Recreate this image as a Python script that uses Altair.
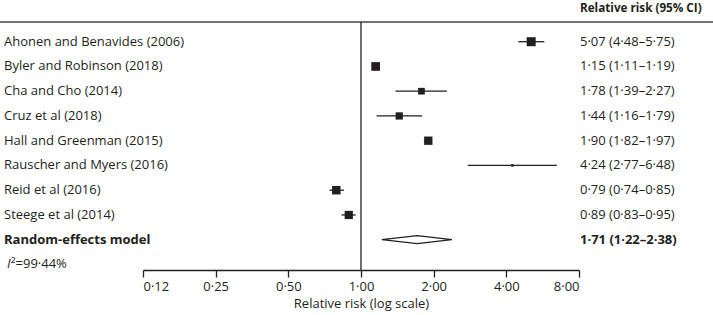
import altair as alt
import pandas as pd

# ---- data ----
studies = [
    "Ahonen and Benavides (2006)",
    "Byler and Robinson (2018)",
    "Cha and Cho (2014)",
    "Cruz et al (2018)",
    "Hall and Greenman (2015)",
    "Rauscher and Myers (2016)",
    "Reid et al (2016)",
    "Steege et al (2014)",
]
rr = [5.07, 1.15, 1.78, 1.44, 1.90, 4.24, 0.79, 0.89]
ci_low = [4.48, 1.11, 1.39, 1.16, 1.82, 2.77, 0.74, 0.83]
ci_high = [5.75, 1.19, 2.27, 1.79, 1.97, 6.48, 0.85, 0.95]
weights = [17.2, 16.1, 9.5, 11.2, 14.8, 1.4, 15.3, 14.4]

pooled_label = "Random-effects model"
pooled_rr = 1.71
pooled_low = 1.22
pooled_high = 2.38
i2_value = "99·44%"

tick_values = [0.125, 0.25, 0.5, 1, 2, 4, 8]
tick_labels = ["0·12", "0·25", "0·50", "1·00", "2·00", "4·00", "8·00"]
header_text = "Relative risk (95% CI)"
x_title = "Relative risk (log scale)"

# ---- layout / style ----
INK = "#231f20"
FONT = "Open Sans"
FS = 13
W, H = 436, 248
PAD = {"left": 143, "top": 22, "right": 134, "bottom": 45}
ROW_PX = 24.75
Y0 = -19.7 / ROW_PX
Y1 = Y0 + H / ROW_PX
DIAMOND_HALF = 4.0 / ROW_PX


def fmt(v):
    return f"{v:.2f}".replace(".", "·")


n = len(studies)
df = pd.DataFrame({
    "row": list(range(n)),
    "study": studies,
    "rr": rr,
    "lo": ci_low,
    "hi": ci_high,
    "weight": weights,
    "txt": [f"{fmt(a)} ({fmt(b)}–{fmt(c)})" for a, b, c in zip(rr, ci_low, ci_high)],
})
pooled_row = n
pooled_df = pd.DataFrame({
    "row": [pooled_row],
    "study": [pooled_label],
    "txt": [f"{fmt(pooled_rr)} ({fmt(pooled_low)}–{fmt(pooled_high)})"],
})
diamond_df = pd.DataFrame({
    "rr": [pooled_low, pooled_rr, pooled_high],
    "y": [pooled_row, pooled_row - DIAMOND_HALF, pooled_row],
    "y2": [pooled_row, pooled_row + DIAMOND_HALF, pooled_row],
})
i2_df = pd.DataFrame({"row": [pooled_row + 1]})
one = pd.DataFrame({"v": [1]})

label_expr = " : ".join(
    f"abs(datum.value - {v}) < 1e-6 ? '{l}'" for v, l in zip(tick_values, tick_labels)
) + " : ''"

x_scale = alt.Scale(type="log", base=2, domain=[tick_values[0], tick_values[-1]], nice=False)
x_axis = alt.Axis(values=tick_values, labelExpr=label_expr, title=x_title, grid=False)
y_scale = alt.Scale(domain=[Y0, Y1], reverse=True, nice=False, zero=False)


def X(field):
    return alt.X(field, type="quantitative", scale=x_scale, axis=x_axis)


def Y(field):
    return alt.Y(field, type="quantitative", scale=y_scale, axis=None)


text_style = dict(align="left", baseline="middle", font=FONT, color=INK)

top_line = alt.Chart(one).mark_rule(color="#444444", strokeWidth=1.5).encode(
    x=alt.value(-PAD["left"]), x2=alt.value(W + PAD["right"]), y=alt.value(0)
)
ref_line = alt.Chart(one).mark_rule(color=INK, strokeWidth=1.3).encode(
    x=X("v"), y=alt.value(0), y2=alt.value(H)
)
ci = alt.Chart(df).mark_rule(color=INK, strokeWidth=1.3).encode(
    x=X("lo"), x2="hi", y=Y("row")
)
squares = alt.Chart(df).mark_square(color=INK, opacity=1).encode(
    x=X("rr"), y=Y("row"),
    size=alt.Size("weight:Q", scale=alt.Scale(domain=[0, 17.2], range=[0, 81]), legend=None),
)
diamond = alt.Chart(diamond_df).mark_area(fill="white", stroke=INK, strokeWidth=1.3, opacity=1).encode(
    x=X("rr"), y=Y("y"), y2="y2"
)
left_labels = alt.Chart(df).mark_text(fontSize=FS, **text_style).encode(
    x=alt.value(-139), y=Y("row"), text="study:N"
)
right_labels = alt.Chart(df).mark_text(fontSize=FS, **text_style).encode(
    x=alt.value(437), y=Y("row"), text="txt:N"
)
pooled_left = alt.Chart(pooled_df).mark_text(fontSize=FS, fontWeight="bold", **text_style).encode(
    x=alt.value(-139), y=Y("row"), text="study:N"
)
pooled_right = alt.Chart(pooled_df).mark_text(fontSize=FS, fontWeight="bold", **text_style).encode(
    x=alt.value(437), y=Y("row"), text="txt:N"
)
header = alt.Chart(one).mark_text(fontSize=11.7, fontWeight="bold", **text_style).encode(
    x=alt.value(437), y=alt.value(-14), text=alt.value(header_text)
)
i2_i = alt.Chart(i2_df).mark_text(fontSize=FS, fontStyle="italic", **text_style).encode(
    x=alt.value(-136), y=Y("row"), text=alt.value("I")
)
i2_rest = alt.Chart(i2_df).mark_text(fontSize=FS, **text_style).encode(
    x=alt.value(-132), y=Y("row"), text=alt.value("²=" + i2_value)
)

chart = alt.layer(
    top_line, ref_line, ci, squares, diamond,
    left_labels, right_labels, pooled_left, pooled_right, header, i2_i, i2_rest,
).properties(
    width=W, height=H, padding=PAD, autosize=alt.AutoSizeParams(type="none"),
    background="white",
).configure_view(stroke=None).configure_axis(
    domainColor=INK, domainWidth=1.3, tickColor=INK, tickWidth=1.3, tickSize=7,
    labelFont=FONT, labelFontSize=13, labelColor=INK, labelPadding=3,
    titleFont=FONT, titleFontSize=13, titleFontWeight="normal", titleColor=INK, titlePadding=4,
)

chart.save("out.html", embed_options={"renderer": "svg", "actions": False})
